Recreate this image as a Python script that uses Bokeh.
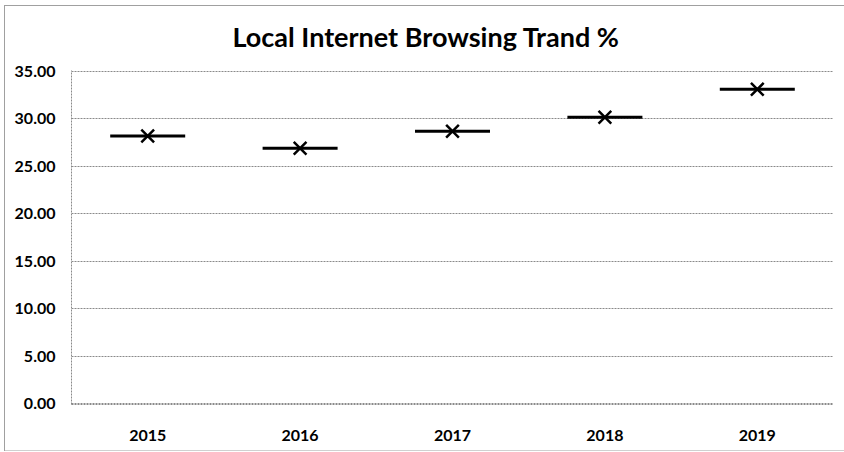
from bokeh.plotting import figure
from bokeh.models import Range1d, FixedTicker, NumeralTickFormatter, Title
from bokeh.embed import file_html
from bokeh.resources import INLINE

years = ["2015", "2016", "2017", "2018", "2019"]
values = [28.17, 26.89, 28.67, 30.14, 33.08]
y_ticks = [0, 5, 10, 15, 20, 25, 30, 35]
title_text = "Local Internet Browsing Trand %"

FONT = "Lato"
GRID = "#8a8a8a"

p = figure(width=844, height=452, x_range=years, y_range=Range1d(-0.06, 35.06),
           output_backend="svg", toolbar_location=None,
           min_border_left=71, min_border_right=11, min_border_top=70, min_border_bottom=48)
t = Title(text=title_text, align="left", offset=161, text_font=FONT, text_font_size="27px",
          text_font_style="bold", text_color="#000000", standoff=35)
p.add_layout(t, "above")

p.outline_line_color = None
p.background_fill_color = "white"
p.border_fill_color = None
p.styles = {
    "background": ("linear-gradient(#a0a0a0,#a0a0a0) 4px 5px / 1px 446px no-repeat, "
                   "linear-gradient(#a0a0a0,#a0a0a0) 4px 5px / 840px 1px no-repeat, "
                   "linear-gradient(#d0d0d0,#d0d0d0) 4px 450px / 840px 1px no-repeat, white"),
}

# grid
p.xgrid.grid_line_color = None
p.ygrid.ticker = FixedTicker(ticks=y_ticks)
p.ygrid.grid_line_color = GRID
p.ygrid.grid_line_dash = "2 1"
p.ygrid.grid_line_width = 1

# y axis
p.yaxis.ticker = FixedTicker(ticks=y_ticks)
p.yaxis.formatter = NumeralTickFormatter(format="0.00")
p.yaxis.axis_line_color = GRID
p.yaxis.axis_line_dash = "2 1"
p.yaxis.major_tick_line_color = None
p.yaxis.minor_tick_line_color = None
p.yaxis.major_label_text_font = FONT
p.yaxis.major_label_text_font_style = "bold"
p.yaxis.major_label_text_font_size = "16px"
p.yaxis.major_label_text_color = "#000000"
p.yaxis.major_label_standoff = 10

# x axis
p.xaxis.axis_line_color = GRID
p.xaxis.axis_line_dash = "2 1"
p.xaxis.major_tick_line_color = None
p.xaxis.minor_tick_line_color = None
p.xaxis.major_label_text_font = FONT
p.xaxis.major_label_text_font_style = "bold"
p.xaxis.major_label_text_font_size = "16px"
p.xaxis.major_label_text_color = "#000000"
p.xaxis.major_label_standoff = 19

# marks
p.scatter(x=years, y=values, marker="dash", size=75, line_width=3, line_color="black")
p.scatter(x=years, y=values, marker="x", size=18, line_width=2.5, line_color="black")

open("out.html", "w").write(file_html(p, INLINE))
